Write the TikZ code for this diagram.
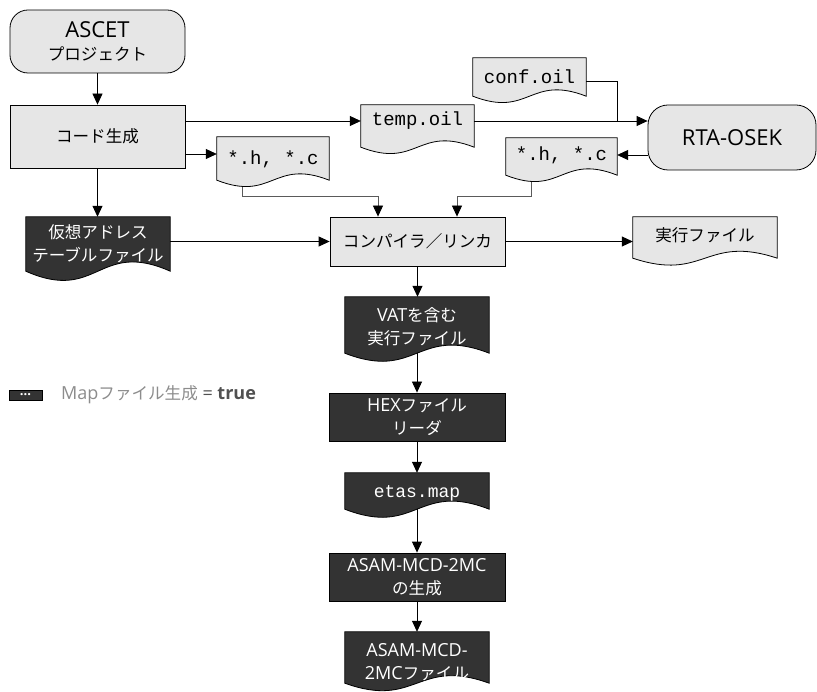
\documentclass[tikz,border=0pt]{standalone}
\usepackage{fontspec}
\setmainfont{Open Sans}
\newfontfamily\jp[Scale=0.92]{Noto Sans CJK JP}
\newfontfamily\mono{Liberation Mono}
\usetikzlibrary{arrows.meta,calc}
\pgfdeclarelayer{bg}
\pgfdeclarelayer{shp}
\pgfsetlayers{bg,shp,main}
\definecolor{lightfill}{HTML}{E6E6E6}
\definecolor{darkfill}{HTML}{333333}
\definecolor{legendgray}{HTML}{8C8C8C}
\definecolor{legenddark}{HTML}{505050}
\definecolor{conngray}{HTML}{5A5A5A}
\newcommand{\docshape}[4]{%
  \path[draw=black, line width=0.8pt, fill=#3]
    (#1.north west) -- ($(#1.south west)+(0,#2)$)
    .. controls ($(#1.south)+(0,#2+#4)$) and ($(#1.south)+(0,#2-#4)$) ..
    ($(#1.south east)+(0,#2)$) -- (#1.north east) -- cycle;}
\tikzset{
  arr/.style={draw=black, line width=0.8pt, -{Triangle[length=11pt,width=10pt,color=black]}},
  ln/.style={draw=black, line width=0.8pt},
  lbox/.style={draw=black, fill=lightfill, line width=0.8pt, inner sep=0pt, align=center, font=\fontsize{18}{23}\selectfont},
  dbox/.style={draw=black, fill=darkfill, text=white, line width=0.8pt, inner sep=0pt, align=center, font=\fontsize{18}{23}\selectfont},
  docn/.style={inner sep=0pt, align=center, font=\fontsize{18}{23}\selectfont},
  docd/.style={docn, text=white},
  monot/.style={font=\mono\fontsize{19}{22}\selectfont}
}
\begin{document}
\begin{tikzpicture}[x=1pt,y=-1pt]
\useasboundingbox (0,0) rectangle (817,692);
% plain boxes
\node[lbox, rounded corners=18pt, minimum width=175pt, minimum height=63pt] (ascet) at (97.5,41.5)
  {{\fontsize{22}{23}\selectfont ASCET}\\{\jp プロジェクト}};
\node[lbox, minimum width=175pt, minimum height=63pt] (code) at (97.5,136.5) {{\jp コード生成}};
\node[lbox, rounded corners=20pt, minimum width=168pt, minimum height=65pt] (rta) at (732,137.5)
  {{\fontsize{22}{23}\selectfont RTA-OSEK}};
\node[lbox, minimum width=175pt, minimum height=49pt] (comp) at (417.5,241.5) {{\jp コンパイラ／リンカ}};
\node[dbox, minimum width=176pt, minimum height=48pt] (hex) at (417,417) {HEX{\jp ファイル}\\{\jp リーダ}};
\node[dbox, minimum width=176pt, minimum height=48pt] (agen) at (417,577) {ASAM-MCD-2MC\\{\jp の生成}};
% document nodes
\node[docn, monot, minimum width=113pt, minimum height=32pt] (temp) at (417.5,121) {temp.oil};
\node[docn, monot, minimum width=113pt, minimum height=38pt] (conf) at (529.5,77) {conf.oil};
\node[docn, monot, minimum width=111pt, minimum height=34pt] (rsh) at (561.5,155) {*.h, *.c};
\node[docn, monot, minimum width=112pt, minimum height=44pt] (lh) at (273,159) {*.h, *.c};
\node[docd, minimum width=144pt, minimum height=54pt] (vt) at (98,244) {{\jp 仮想アドレス}\\{\jp テーブルファイル}};
\node[docn, minimum width=144pt, minimum height=36pt] (exe) at (705,235) {{\jp 実行ファイル}};
\node[docd, minimum width=144pt, minimum height=60pt] (vat) at (417,327) {VAT{\jp を含む}\\{\jp 実行ファイル}};
\node[docd, monot, font=\mono\fontsize{18}{22}\selectfont, minimum width=144pt, minimum height=40pt] (etas) at (417,493) {etas.map};
\node[docd, minimum width=144pt, minimum height=60pt] (afile) at (417,662) {ASAM-MCD-\\2MC{\jp ファイル}};
\begin{pgfonlayer}{shp}
\docshape{temp}{10}{lightfill}{22}
\docshape{conf}{0}{lightfill}{22}
\docshape{rsh}{3}{lightfill}{22}
\docshape{lh}{-1}{lightfill}{22}
\docshape{vt}{0}{darkfill}{32}
\docshape{exe}{5}{lightfill}{24}
\docshape{vat}{-4}{darkfill}{28}
\docshape{etas}{-4}{darkfill}{28}
\docshape{afile}{-9}{darkfill}{26}
\end{pgfonlayer}
% connectors
\draw[arr] (ascet) -- (code);
\draw[arr] (code.east |- temp.west) -- (temp.west);
\coordinate (lhin) at ($(lh.west)+(0,-5)$);
\draw[arr] (code.east |- lhin) -- (lhin);
\draw[arr] (temp.east) -- (temp.east -| rta.west);
\coordinate (confout) at ($(conf.east)+(0,4)$);
\draw[ln] (confout) -| (rsh.east |- temp.east);
\draw[arr] (rta.west |- rsh.east) -- (rsh.east);
\coordinate (j1) at ($(comp.north)+(-39.5,-20)$);
\coordinate (j2) at ($(comp.north)+(39.5,-20)$);
\begin{pgfonlayer}{bg}
\draw[arr, draw=conngray] ($(lh.south west)+(26,0)$) |- (j1) -- (j1 |- comp.north);
\draw[arr, draw=conngray] ($(rsh.south west)+(26,0)$) |- (j2) -- (j2 |- comp.north);
\draw[arr] (vat.center) -- (vat.center |- hex.north);
\draw[arr] (etas.center) -- (etas.center |- agen.north);
\end{pgfonlayer}
\draw[arr] (code.south) -- (code.south |- vt.north);
\draw[arr] (vt.east |- comp.west) -- (comp.west);
\draw[arr] (comp.east) -- (comp.east -| exe.west);
\draw[arr] (comp.south) -- (comp.south |- vat.north);
\draw[arr] (hex.south) -- (hex.south |- etas.north);
\draw[arr] (agen.south) -- (agen.south |- afile.north);
% legend
\node[dbox, minimum width=33pt, minimum height=10pt, font=\fontsize{13}{13}\selectfont\bfseries] (lg) at (25.5,395) {...};
\node[anchor=west, inner sep=0pt, font=\fontsize{18}{20}\selectfont, text=legendgray] (lgt) at (61,395)
  {Map{\jp ファイル生成} \textcolor{legenddark}{= \textbf{true}}};
\end{tikzpicture}
\end{document}
